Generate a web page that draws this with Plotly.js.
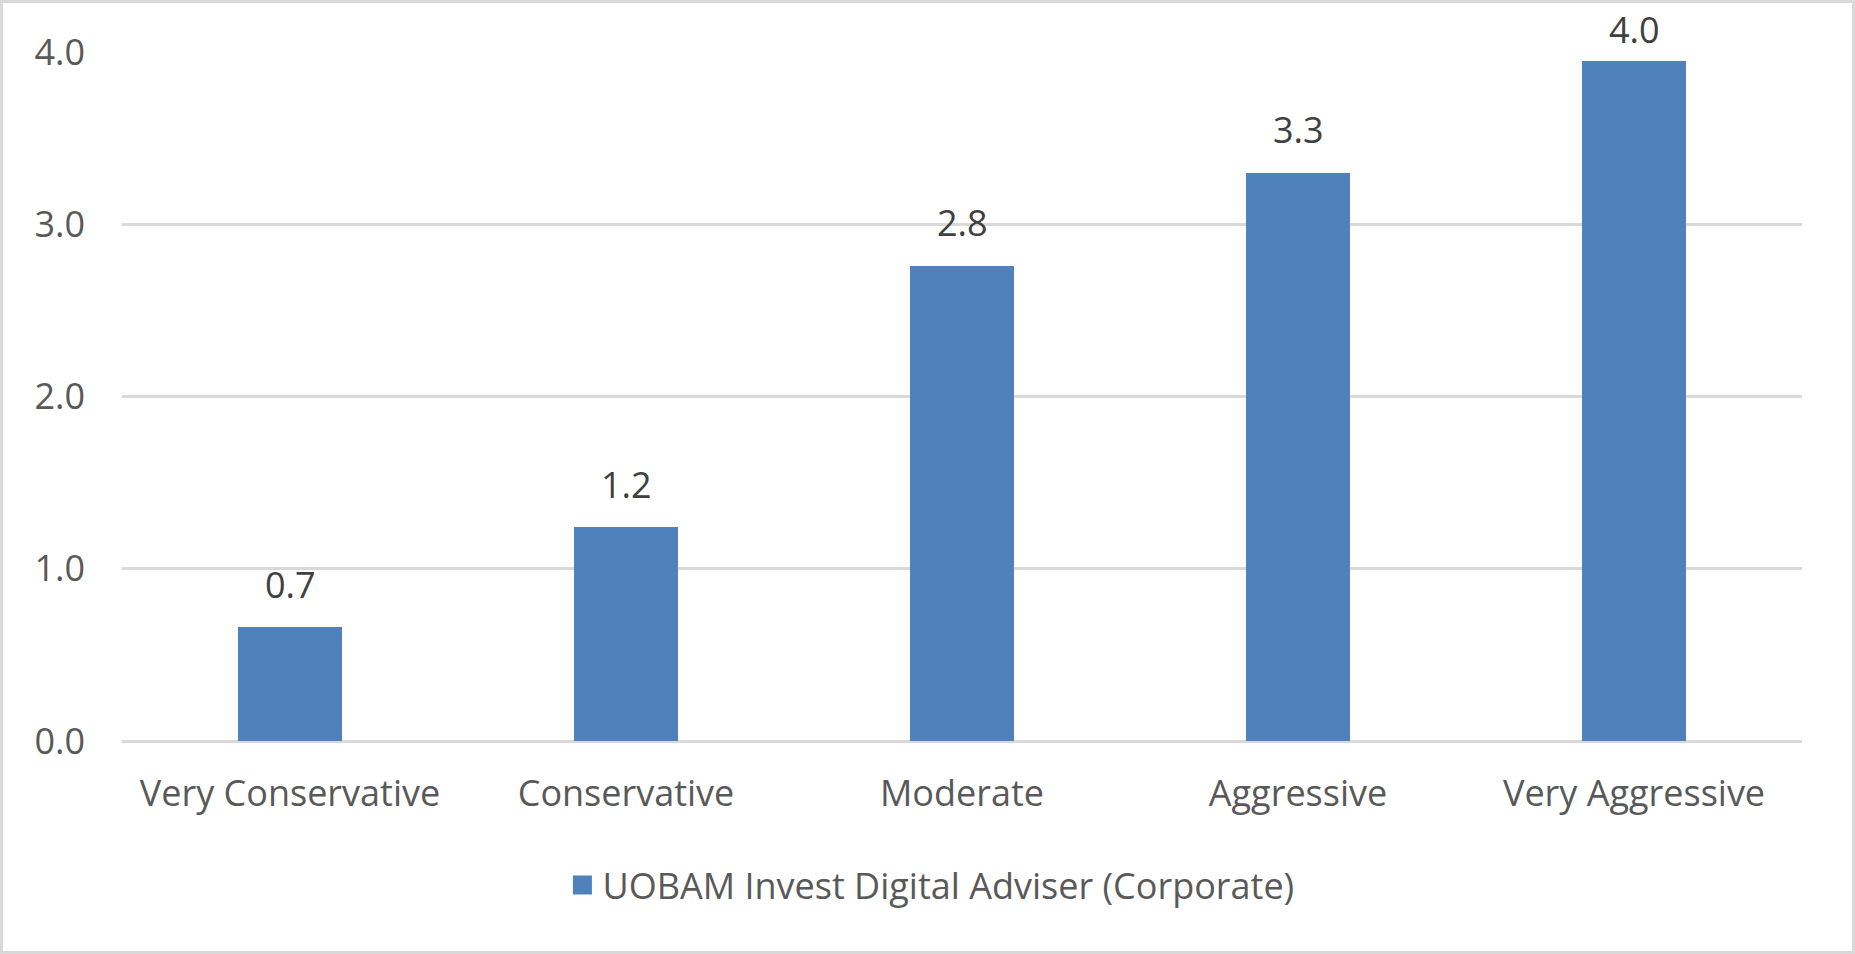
<!DOCTYPE html>
<html>
<head>
<meta charset="utf-8">
<script src="https://cdn.plot.ly/plotly-3.0.1.min.js"></script>
<style>
    html, body { margin: 0; padding: 0; background: #fff; }
    #chart { width: 1855px; height: 954px; box-sizing: border-box; border: 3px solid #d9d9d9; }
</style>
</head>
<body>
<div id="chart"></div>
<script>
// Risk profile bar chart, one series.

const categories = ['Very Conservative', 'Conservative', 'Moderate', 'Aggressive', 'Very Aggressive'];
const values = [0.66, 1.24, 2.76, 3.30, 3.95];
const seriesName = 'UOBAM Invest Digital Adviser (Corporate)';
const yTicks = [0, 1, 2, 3, 4];

const W = 1849, H = 948;
const margin = { l: 119, r: 50, t: 49, b: 210 };
const yMax = 4;
const plotH = H - margin.t - margin.b;

const FONT = '"Open Sans", "Noto Sans", sans-serif';
const TEXT = '#595959';
const GRID = '#d9d9d9';
const BAR = '#4f81bd';

// Labels sit above each bar; the top one gets squeezed so it stays on the page
const labelGap = 43;
const annotations = categories.map((c, i) => {
    const barTop = margin.t + (yMax - values[i]) / yMax * plotH;
    return {
        x: c, y: values[i], xref: 'x', yref: 'y',
        text: values[i].toFixed(1),
        showarrow: false,
        yanchor: 'middle',
        yshift: Math.min(labelGap, barTop - 27),
        font: { family: FONT, size: 36, color: '#404040' },
    };
});

const trace = {
    type: 'bar',
    x: categories,
    y: values,
    name: seriesName,
    width: 0.31,
    marker: { color: BAR },
    hoverinfo: 'x+y',
};

const layout = {
    width: W, height: H,
    margin,
    paper_bgcolor: '#fff',
    plot_bgcolor: '#fff',
    font: { family: FONT, color: TEXT, size: 36 },
    showlegend: true,
    legend: {
        orientation: 'h',
        x: 0.4815, xanchor: 'center',
        y: -0.209, yanchor: 'middle',
        font: { family: FONT, size: 36, color: TEXT },
    },
    xaxis: {
        type: 'category',
        showgrid: false,
        showline: false,
        zeroline: false,
        ticks: '',
        ticklabelstandoff: 28,
        tickfont: { family: FONT, size: 36, color: TEXT },
    },
    yaxis: {
        range: [0, yMax],
        tickvals: yTicks,
        ticktext: yTicks.map(v => v.toFixed(1)),
        showgrid: true,
        gridcolor: GRID,
        gridwidth: 3,
        zeroline: true,
        zerolinecolor: GRID,
        zerolinewidth: 3,
        showline: false,
        ticks: '',
        ticklabelstandoff: 36,
        tickfont: { family: FONT, size: 36, color: TEXT },
    },
    annotations,
    bargap: 0,
};

Plotly.newPlot('chart', [trace], layout, { displayModeBar: false, staticPlot: true }).then(gd => {
    // legend swatch is a fixed 12px square; the original uses a bigger one
    gd.querySelectorAll('.legendpoints path').forEach(p => {
        p.setAttribute('d', 'M9.5,9.5H-9.5V-9.5H9.5Z');
    });
});
</script>
</body>
</html>
